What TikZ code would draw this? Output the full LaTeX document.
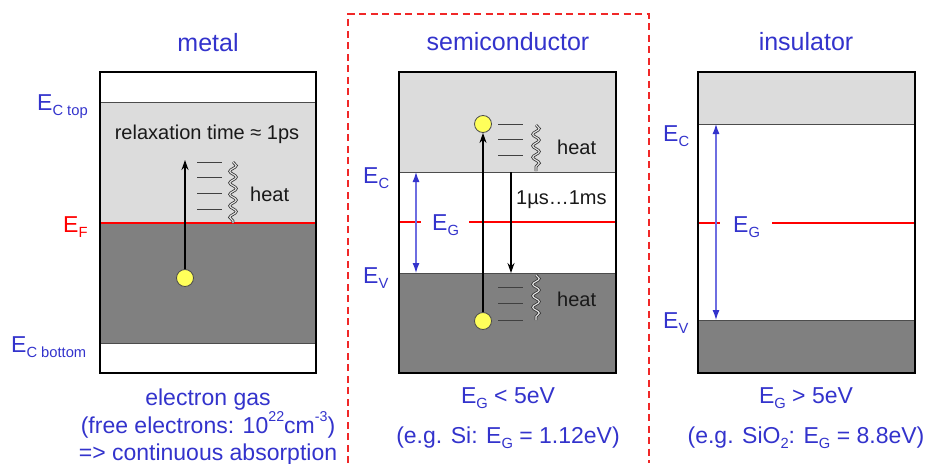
\documentclass[tikz,border=0pt]{standalone}
\usepackage{fontspec}
\setmainfont{Liberation Sans}
\usetikzlibrary{arrows.meta,decorations.pathmorphing}
\definecolor{txtblue}{RGB}{51,51,204}
\definecolor{arrblue}{RGB}{110,110,225}
\definecolor{lgray}{RGB}{220,220,220}
\definecolor{dgray}{RGB}{128,128,128}
\definecolor{bandred}{RGB}{255,0,0}
\definecolor{dashred}{RGB}{240,40,40}
\definecolor{elyellow}{RGB}{255,255,90}
\newcommand\sbs[1]{\raisebox{-0.25em}{\scalebox{0.64}{#1}}}
\newcommand\sps[1]{\raisebox{0.5em}{\scalebox{0.62}{#1}}}
\begin{document}
\begin{tikzpicture}[x=1pt,y=-1pt,
  title/.style={text=txtblue,font=\fontsize{25}{30}\selectfont,inner sep=0,anchor=base},
  lbl/.style={text=txtblue,font=\fontsize{23}{28}\selectfont,inner sep=0,anchor=base west},
  btxt/.style={text=txtblue,font=\fontsize{23}{28}\selectfont,inner sep=0,anchor=base},
  note/.style={text=black!90,font=\fontsize{20}{24}\selectfont,inner sep=0},
  frame/.style={draw=black,line width=2pt},
  bandline/.style={draw=black!70,line width=1pt},
  fermi/.style={draw=bandred,line width=1.4pt},
  level/.style={draw=black!75,line width=1pt},
  wig/.style={draw=black!80,double=white!90!black,double distance=1.1pt,line width=0.8pt,
    decorate,decoration={snake,amplitude=3.3pt,segment length=11.5pt}},
  electron/.style={circle,draw=black!70,fill=elyellow,line width=0.8pt,minimum size=17pt,inner sep=0},
  arr/.style={draw=black,line width=1.5pt,-{Stealth[length=10pt,width=7pt]}},
  garr/.style={draw=arrblue,line width=1.2pt,{Latex[length=10pt,width=7pt,color=txtblue]}-{Latex[length=10pt,width=7pt,color=txtblue]}}
]
\useasboundingbox (0,0) rectangle (928,463);

% ================= metal =================
\node[title] (tmetal) at (208,51) {metal};
\fill[lgray] (100,102) rectangle (316,223);
\fill[dgray] (100,223) rectangle (316,343);
\draw[bandline] (100,102) -- (316,102);
\draw[bandline] (100,343) -- (316,343);
\draw[fermi] (100,223) -- (316,223);
\draw[frame] (100,72) rectangle (316,373);
\node[lbl] (mect) at (37,110) {E\sbs{C top}};
\node[lbl,text=bandred] (mef) at (63,232) {E\sbs{F}};
\node[lbl] (mecb) at (11,352) {E\sbs{C bottom}};
\node[note,anchor=base] (mrelax) at (207,139) {relaxation time ≈ 1ps};
\node[electron] (e1) at (185,278) {};
\coordinate (m1top) at (185,160);
\draw[arr] (e1) -- (m1top);
\foreach \yy in {162,177,193,209} \draw[level] (197,\yy) -- (222,\yy);
\coordinate (mw1) at (233,162);
\coordinate (mw2) at (233,223);
\draw[wig] (mw1) -- (mw2);
\node[note,anchor=base west] (mheat) at (250,201) {heat};
\node[btxt] (mb1) at (208,405) {electron gas};
\node[btxt] (mb2) at (208,433) {(free electrons: 10\sps{22}cm\sps{-3})};
\node[btxt] (mb3) at (208,460) {=> continuous absorption};

% ================= semiconductor =================
\draw[dashred,line width=1.5pt,dash pattern=on 7pt off 4.5pt] (348,463) -- (348,14) -- (649,14) -- (649,463);
\node[title] (tsemi) at (508,50) {semiconductor};
\fill[lgray] (399,72) rectangle (616,172);
\fill[dgray] (399,273) rectangle (616,373);
\draw[bandline] (399,172) -- (616,172);
\draw[bandline] (399,273) -- (616,273);
\draw[fermi] (399,222) -- (421,222);
\draw[fermi] (469,222) -- (616,222);
\draw[frame] (399,72) rectangle (616,373);
\coordinate (sg1) at (416,172);
\coordinate (sg2) at (416,273);
\draw[garr] (sg1) -- (sg2);
\node[lbl] (seg) at (432,230) {E\sbs{G}};
\node[lbl] (sec) at (363,183) {E\sbs{C}};
\node[lbl] (sev) at (363,283) {E\sbs{V}};
\node[electron] (e2) at (483,124) {};
\node[electron] (e3) at (483,321) {};
\draw[arr] (e3) -- (e2);
\foreach \yy in {124,139,155} \draw[level] (498,\yy) -- (523,\yy);
\foreach \yy in {287,303,320} \draw[level] (498,\yy) -- (523,\yy);
\coordinate (sw1) at (536,125);
\coordinate (sw2) at (536,171);
\draw[wig] (sw1) -- (sw2);
\coordinate (sw3) at (536,275);
\coordinate (sw4) at (536,320);
\draw[wig] (sw3) -- (sw4);
\node[note,anchor=base west] (sheat1) at (557,154) {heat};
\node[note,anchor=base west] (sheat2) at (557,306) {heat};
\coordinate (sd1) at (511,172);
\coordinate (sd2) at (511,273);
\draw[arr] (sd1) -- (sd2);
\node[note,anchor=base west] (stime) at (516,204) {1µs…1ms};
\node[btxt] (sb1) at (508,403) {E\sbs{G} < 5eV};
\node[btxt] (sb2) at (508,443) {(e.g. Si: E\sbs{G} = 1.12eV)};

% ================= insulator =================
\node[title] (tins) at (806,50) {insulator};
\fill[lgray] (698,72) rectangle (915,124);
\fill[dgray] (698,320) rectangle (915,373);
\draw[bandline] (698,124) -- (915,124);
\draw[bandline] (698,320) -- (915,320);
\draw[fermi] (698,223) -- (720,223);
\draw[fermi] (772,223) -- (915,223);
\draw[frame] (698,72) rectangle (915,373);
\coordinate (ig1) at (716,124);
\coordinate (ig2) at (716,320);
\draw[garr] (ig1) -- (ig2);
\node[lbl] (ieg) at (733,232) {E\sbs{G}};
\node[lbl] (iec) at (663,141) {E\sbs{C}};
\node[lbl] (iev) at (663,328) {E\sbs{V}};
\node[btxt] (ib1) at (806,403) {E\sbs{G} > 5eV};
\node[btxt] (ib2) at (806,443) {(e.g. SiO\sbs{2}: E\sbs{G} = 8.8eV)};
\end{tikzpicture}
\end{document}
